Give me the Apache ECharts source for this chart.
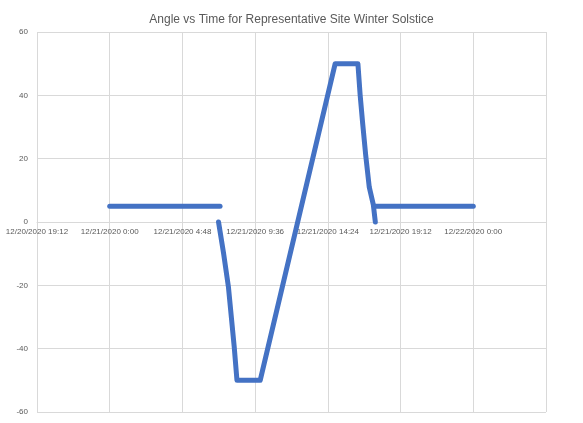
<!DOCTYPE html>
<html>
<head>
<meta charset="utf-8">
<script src="https://cdn.jsdelivr.net/npm/echarts@6/dist/echarts.min.js"></script>
<style>
  html, body { margin: 0; padding: 0; background: #fff; }
  #chart { width: 583px; height: 423px; }
</style>
</head>
<body>
<div id="chart"></div>
<script>
// flat parts at 5 deg (before and after tracking)
var morningTimes = ['12/21/2020 0:00', '12/21/2020 7:17']
var morningAngles = [5, 5]
var eveningTimes = ['12/21/2020 17:30', '12/22/2020 0:00']
var eveningAngles = [5, 5]

// tracking part
var trackTimes = [
  '12/21/2020 7:11', '12/21/2020 7:31', '12/21/2020 7:50', '12/21/2020 8:13', '12/21/2020 8:24',
  '12/21/2020 9:56', '12/21/2020 14:53', '12/21/2020 16:23', '12/21/2020 16:32',
  '12/21/2020 16:42', '12/21/2020 16:54', '12/21/2020 17:08', '12/21/2020 17:24', '12/21/2020 17:32'
]
var trackAngles = [0, -9.9, -20.4, -39.3, -50, -50, 50, 50, 40, 31, 21, 11, 5.5, 0]

// x axis in minutes from 12/20/2020 0:00, ticks every 4:48
var xMin = 1152
var xMax = 3168
var xStep = 288

function toMinutes(s) {
  var parts = s.split(' ')
  var day = parseInt(parts[0].split('/')[1]) - 20
  var hm = parts[1].split(':')
  return day * 1440 + parseInt(hm[0]) * 60 + parseInt(hm[1])
}

function toLabel(m) {
  var day = 20 + Math.floor(m / 1440)
  var rest = m % 1440
  var h = Math.floor(rest / 60)
  var mm = rest % 60
  return '12/' + day + '/2020 ' + h + ':' + (mm < 10 ? '0' + mm : mm)
}

function pairs(times, vals) {
  var out = []
  for (var i = 0; i < times.length; i++) {
    out.push([toMinutes(times[i]), vals[i]])
  }
  return out
}

var lineColor = '#4472C4'
var gridColor = '#d9d9d9'
var textColor = '#595959'
var font = 'Liberation Sans'

function seg(name, data) {
  return {
    name: name,
    type: 'line',
    data: data,
    showSymbol: false,
    animation: false,
    lineStyle: { color: lineColor, width: 5, cap: 'round', join: 'round' },
    itemStyle: { color: lineColor }
  }
}

var chart = echarts.init(document.getElementById('chart'))
chart.setOption({
  title: {
    text: 'Angle vs Time for Representative Site Winter Solstice',
    left: 'center',
    top: 9,
    textStyle: { fontFamily: font, fontSize: 12, fontWeight: 'normal', color: textColor }
  },
  grid: { left: 37, right: 37, top: 32, bottom: 11 },
  xAxis: {
    type: 'value',
    min: xMin,
    max: xMax,
    interval: xStep,
    // sits on the 0 line, half way up the plot
    offset: -190,
    axisLine: { onZero: false, lineStyle: { color: gridColor } },
    axisTick: { show: false },
    splitLine: { show: true, lineStyle: { color: gridColor } },
    axisLabel: {
      margin: 6,
      fontFamily: font,
      fontSize: 8,
      color: textColor,
      showMaxLabel: false,
      formatter: function (v) { return v >= xMax ? '' : toLabel(v) }
    }
  },
  yAxis: {
    type: 'value',
    min: -60,
    max: 60,
    interval: 20,
    axisLine: { show: false },
    axisTick: { show: false },
    splitLine: { lineStyle: { color: gridColor } },
    axisLabel: { fontFamily: font, fontSize: 8, color: textColor, margin: 9 }
  },
  series: [
    seg('morning', pairs(morningTimes, morningAngles)),
    seg('track', pairs(trackTimes, trackAngles)),
    seg('evening', pairs(eveningTimes, eveningAngles))
  ]
})
</script>
</body>
</html>
